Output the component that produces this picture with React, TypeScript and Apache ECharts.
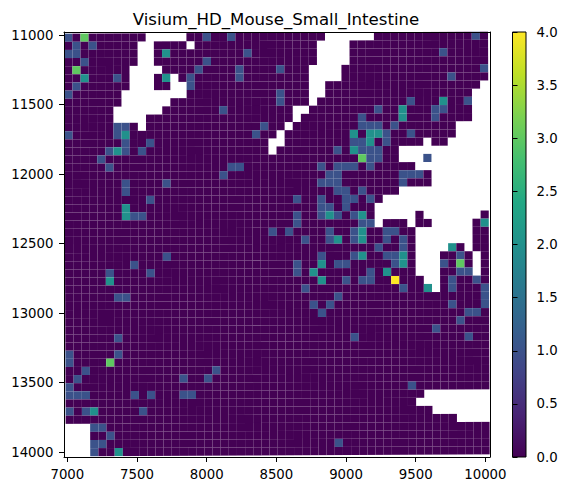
import React, { useEffect, useRef } from "react";
import * as echarts from "echarts";

const chartTitle = "Visium_HD_Mouse_Small_Intestine";
const xTicks = [7000, 7500, 8000, 8500, 9000, 9500, 10000];
const yTicks = [11000, 11500, 12000, 12500, 13000, 13500, 14000];
const colorbarMax = 4;
const viridis = ["#440154", "#482475", "#414487", "#355f8d", "#2a788e", "#21918c", "#22a884", "#44bf70", "#7ad151", "#bddf26", "#fde725"];

const gridSize = 52;
// Bin layout in data units: the tissue grid is very slightly rotated.
const binWidth = 58.5;
const binHeight = 58.45;
const originX = 6977;
const originY = 10990;
const shearX = 0.23;
const shearY = 0.28;

// row -> columns, by binned value; every other present bin is 0.
const valueOne: Record<number, number[]> = {
  0: [0, 17, 20, 50], 1: [1, 3], 2: [0, 1, 22, 46], 3: [2, 17], 4: [16, 21, 26, 51],
  5: [6, 15, 21, 47], 6: [1, 15], 7: [0, 26], 8: [26, 42, 49], 9: [19, 38, 45, 46],
  10: [36, 45], 11: [6, 7, 24, 36, 37, 38, 40], 12: [0, 6, 23, 39, 42], 13: [7, 10, 35, 36, 39],
  14: [5, 7, 9, 33, 36, 37, 38], 15: [4, 37, 38, 44], 16: [5, 20, 21, 31, 33, 34, 35, 37],
  17: [19, 32, 33, 41, 42, 43], 18: [7, 12, 31, 32, 33, 41], 19: [7, 33, 34, 36],
  20: [10, 28, 31, 34, 35, 37], 21: [31, 32, 34], 22: [8, 9, 28, 31, 33, 35], 23: [28, 36, 37],
  24: [25, 27, 32, 35, 39, 40], 25: [29, 32, 35, 39, 41], 26: [38, 41], 27: [12, 31, 35, 39, 40, 48],
  28: [8, 28, 33, 34, 40, 46], 29: [5, 10, 28, 37, 48, 49], 30: [34, 36, 37, 47, 50],
  31: [29, 41, 47, 51], 32: [6, 7, 33, 51], 33: [30, 32, 47, 51], 34: [31, 49, 50], 35: [48],
  36: [45], 37: [6, 35, 49], 39: [0, 6], 40: [0], 41: [2, 18], 42: [1, 14, 17], 43: [0, 42],
  44: [0, 1, 2, 8, 10, 14, 15], 46: [0, 2, 9], 48: [3, 4], 49: [5], 50: [3, 4, 33], 51: [3],
};
const valueTwo: Record<number, number[]> = {
  2: [12], 5: [2, 12], 8: [46], 9: [41], 10: [41], 12: [7, 35, 37, 38], 13: [37], 14: [6, 35],
  21: [7], 22: [7, 32, 36], 23: [51], 24: [36], 25: [33, 36], 26: [47], 27: [36, 41], 28: [31, 41],
  29: [30, 39], 30: [5, 31], 31: [44], 46: [3], 51: [6],
};
const valueThree: Record<number, number[]> = { 0: [2], 4: [1], 15: [36], 28: [48], 40: [5] };
const valueFour: Record<number, number[]> = { 30: [40] };

// row -> [first, last] column runs with no bin at all.
const emptyRuns: Record<number, number[][]> = {
  0: [[10, 14], [32, 37]], 1: [[9, 10], [15, 15], [31, 34]], 2: [[9, 10], [31, 34]], 3: [[9, 10], [31, 34]],
  4: [[8, 11], [30, 33]], 5: [[8, 10], [13, 13], [30, 33]], 6: [[8, 10], [13, 14], [30, 31], [51, 51]],
  7: [[7, 14], [30, 31], [50, 51]], 8: [[7, 12], [30, 30], [50, 51]], 9: [[6, 11], [28, 29], [50, 51]],
  10: [[6, 9], [28, 28], [50, 51]], 11: [[9, 9], [27, 27], [48, 51]], 12: [[26, 26], [48, 51]],
  13: [[25, 26], [44, 44], [47, 51]], 14: [[25, 25], [41, 51]], 15: [[41, 43], [45, 51]], 16: [[43, 51]],
  17: [[45, 51]], 18: [[45, 51]], 19: [[41, 51]], 20: [[39, 51]], 21: [[38, 51]], 22: [[38, 42], [44, 50]],
  23: [[38, 38], [42, 42], [45, 49]], 24: [[43, 49]], 25: [[43, 49]], 26: [[43, 46], [49, 49]],
  27: [[43, 45], [50, 50]], 28: [[43, 45], [50, 50]], 29: [[43, 45], [50, 50]], 30: [[44, 45]], 31: [[45, 45]],
  44: [[44, 51]], 45: [[43, 51]], 46: [[45, 51]], 47: [[48, 51]], 48: [[0, 2]], 49: [[0, 2]], 50: [[0, 2]], 51: [[0, 2]],
};

function buildBins(): number[][] {
  const out: number[][] = [];
  const has = (m: Record<number, number[]>, r: number, c: number) => (m[r] || []).includes(c);
  for (let r = 0; r < gridSize; r++) {
    for (let c = 0; c < gridSize; c++) {
      if ((emptyRuns[r] || []).some(([a, b]) => c >= a && c <= b)) continue;
      const v = has(valueFour, r, c) ? 4 : has(valueThree, r, c) ? 3 : has(valueTwo, r, c) ? 2 : has(valueOne, r, c) ? 1 : 0;
      out.push([originX + c * binWidth + r * shearX, originY + r * binHeight - c * shearY, v]);
    }
  }
  return out;
}

const FONT = "DejaVu Sans";

export default function App() {
  const ref = useRef<HTMLDivElement>(null);
  useEffect(() => {
    document.body.style.margin = "0";
    const chart = echarts.init(ref.current!, undefined, { renderer: "svg" });
    const axisCommon = {
      axisLine: { show: true, onZero: false, lineStyle: { color: "#000", width: 1 } },
      splitLine: { show: false },
      z: 5,
    };
    const labelCommon = { color: "#000", fontFamily: FONT, fontSize: 13.3, margin: 10.5 };
    const tickCommon = { show: true, length: 5, lineStyle: { color: "#000", width: 1 } };
    const bare = { axisTick: { show: false }, axisLabel: { show: false } };
    const xRange = { type: "value", min: 6976, max: 10033, gridIndex: 0 };
    const yRange = { type: "value", min: 10978, max: 14034, inverse: true, gridIndex: 0 };
    chart.setOption({
      animation: false,
      backgroundColor: "#fff",
      title: {
        text: chartTitle,
        left: 271,
        top: 6,
        textAlign: "center",
        textStyle: { color: "#000", fontFamily: FONT, fontSize: 16.6, fontWeight: "normal" },
      },
      grid: [
        { left: 64, top: 32, width: 426, height: 425, show: false },
        { left: 512.5, top: 32, width: 13.5, height: 425, show: false },
      ],
      xAxis: [
        {
          ...xRange, ...axisCommon, position: "bottom",
          axisTick: { ...tickCommon, customValues: xTicks },
          axisLabel: { ...labelCommon, customValues: xTicks, formatter: (v: number) => String(v) },
        },
        { ...xRange, ...axisCommon, ...bare, position: "top" },
        { type: "value", min: 0, max: 1, gridIndex: 1, show: false },
      ],
      yAxis: [
        {
          ...yRange, ...axisCommon, position: "left",
          axisTick: { ...tickCommon, customValues: yTicks },
          axisLabel: { ...labelCommon, customValues: yTicks, formatter: (v: number) => String(v) },
        },
        { ...yRange, ...axisCommon, ...bare, position: "right" },
        {
          type: "value", min: 0, max: colorbarMax, interval: 0.5, gridIndex: 1, position: "right",
          ...axisCommon,
          axisLine: { show: false },
          axisTick: tickCommon,
          axisLabel: { ...labelCommon, formatter: (v: number) => v.toFixed(1) },
        },
      ],
      visualMap: { show: false, type: "continuous", min: 0, max: colorbarMax, dimension: 2, seriesIndex: 0, inRange: { color: viridis } },
      series: [
        {
          type: "custom",
          xAxisIndex: 0,
          yAxisIndex: 0,
          data: buildBins(),
          encode: { x: 0, y: 1 },
          renderItem: (_p: any, api: any) => {
            const a = api.coord([api.value(0), api.value(1)]);
            const b = api.coord([api.value(0) + binWidth, api.value(1) + binHeight]);
            return {
              type: "rect",
              shape: { x: a[0], y: a[1], width: b[0] - a[0], height: b[1] - a[1] },
              style: { fill: api.visual("color") },
            };
          },
        },
        {
          type: "custom",
          xAxisIndex: 2,
          yAxisIndex: 2,
          data: [[0, colorbarMax]],
          encode: { x: 0, y: 1 },
          renderItem: (_p: any, api: any) => {
            const a = api.coord([0, colorbarMax]);
            const b = api.coord([1, 0]);
            return {
              type: "rect",
              shape: { x: a[0], y: a[1], width: b[0] - a[0], height: b[1] - a[1] },
              style: {
                stroke: "#000",
                lineWidth: 1,
                fill: new echarts.graphic.LinearGradient(
                  0, 1, 0, 0,
                  viridis.map((color, i) => ({ offset: i / (viridis.length - 1), color }))
                ),
              },
            };
          },
        },
      ],
    });
    return () => chart.dispose();
  }, []);
  return <div ref={ref} style={{ position: "fixed", left: 0, top: 0, width: 568, height: 491 }} />;
}
